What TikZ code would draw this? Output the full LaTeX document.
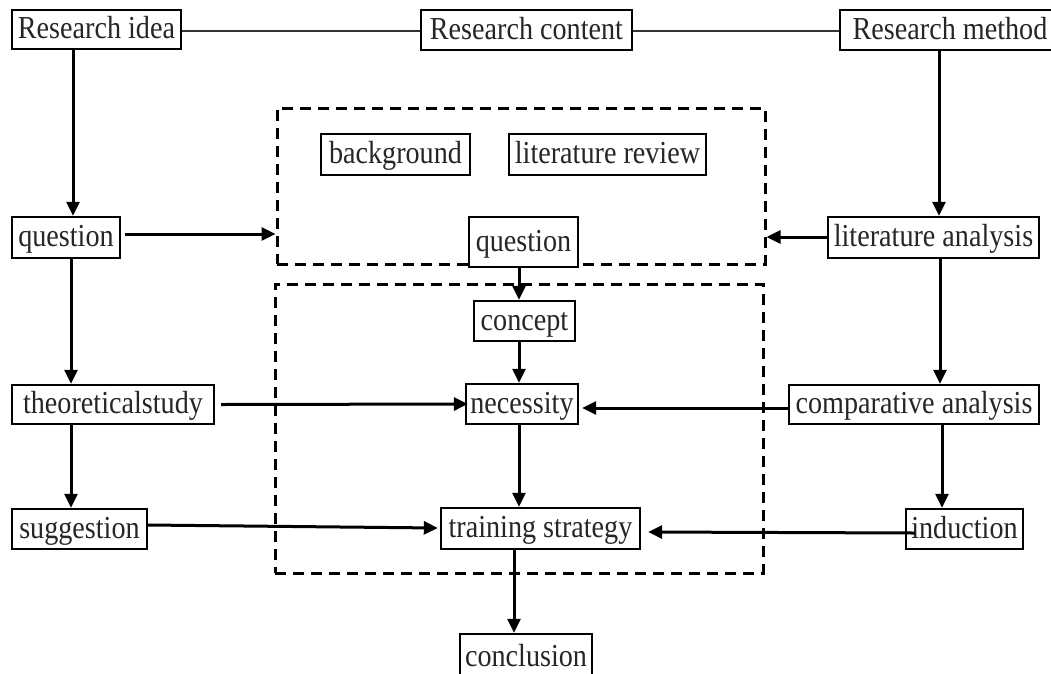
\documentclass[tikz,border=0pt]{standalone}
\usepackage{fontspec}
\setmainfont[FakeStretch=0.88]{Liberation Serif}
\usetikzlibrary{arrows.meta}
\begin{document}
\begin{tikzpicture}[x=1pt,y=-1pt,
  box/.style={draw=black,line width=2.4pt,inner sep=0pt,text=black!85,
    text height=23pt,text depth=5pt,
    font=\fontsize{32}{34}\selectfont},
  dbox/.style={draw=black,line width=3pt,dash pattern=on 11pt off 7pt,inner sep=0pt},
  arr/.style={draw=black,line width=3pt,-{Triangle[length=14pt,width=13pt]}},
  thin/.style={draw=black!80,line width=1.4pt}]
\clip (0,0) rectangle (1051,673);
\fill[white] (0,0) rectangle (1051,673);
% dashed groups
\node[dbox,minimum width=488pt,minimum height=156pt] (d1) at (521,186) {};
\node[dbox,minimum width=488pt,minimum height=289pt] (d2) at (519,428.5) {};
% nodes
\node[box,minimum width=169pt,minimum height=39pt] (ri) at (96.5,29.5) {Research idea};
\node[box,minimum width=211pt,minimum height=40pt] (rc) at (526.5,30) {Research content};
\node[box,minimum width=220pt,minimum height=40pt] (rm) at (950,30) {Research method};
\node[box,minimum width=108pt,minimum height=41pt] (q1) at (66,237.5) {question};
\node[box,minimum width=149pt,minimum height=41pt] (bg) at (395.5,154.5) {background};
\node[box,minimum width=197pt,minimum height=41pt] (lr) at (607.5,154.5) {literature review};
\node[box,minimum width=109pt,minimum height=50pt,fill=white] (q2) at (523.5,242) {question};
\node[box,minimum width=211pt,minimum height=41pt] (la) at (933.5,237.5) {literature analysis};
\node[box,minimum width=101pt,minimum height=40pt] (co) at (524.5,321) {concept};
\node[box,minimum width=112pt,minimum height=40pt] (ne) at (522,404) {necessity};
\node[box,minimum width=202pt,minimum height=39pt] (ts) at (113,404.5) {theoreticalstudy};
\node[box,minimum width=250pt,minimum height=39pt] (ca) at (914,404.5) {comparative analysis};
\node[box,minimum width=135pt,minimum height=40pt] (su) at (79.5,529) {suggestion};
\node[box,minimum width=199pt,minimum height=41pt] (tr) at (540.5,528.5) {training strategy};
\node[box,minimum width=117pt,minimum height=40pt] (in) at (964.5,529) {induction};
\node[box,minimum width=132pt,minimum height=46pt] (cn) at (526,657) {conclusion};
% top links
\draw[thin] ([yshift=-1.5pt]ri.east) -- ([yshift=-1pt]rc.west);
\draw[thin] ([yshift=-1pt]rc.east) -- ([yshift=-1pt]rm.west);
% left column
\draw[arr] ([xshift=-23.5pt]ri.south) -- ([xshift=7pt]q1.north);
\draw[arr] ([xshift=5pt]q1.south) -- ([xshift=-42pt]ts.north);
\draw[arr] ([xshift=-42pt]ts.south) -- ([xshift=-8.5pt]su.north);
\coordinate (qa) at ([xshift=4pt,yshift=3.5pt]q1.east);
\draw[arr] (qa) -- (qa -| d1.west);
% right column
\draw[arr] ([xshift=-11pt]rm.south) -- ([xshift=5.5pt]la.north);
\draw[arr] ([xshift=6.5pt]la.south) -- ([xshift=26pt]ca.north);
\draw[arr] ([xshift=28pt]ca.south) -- ([xshift=-22.5pt]in.north);
\coordinate (lb) at ([yshift=0.5pt]la.west);
\draw[arr] (lb) -- (lb -| d1.east);
% middle column
\draw[arr] ([xshift=-4.5pt]q2.south) -- ([xshift=-5.5pt]co.north);
\draw[arr] ([xshift=-5.5pt]co.south) -- ([xshift=-3pt]ne.north);
\draw[arr] ([xshift=-3pt]ne.south) -- ([xshift=-21.5pt]tr.north);
\draw[arr] ([xshift=-26.5pt]tr.south) -- ([xshift=-12pt]cn.north);
% horizontal feeds
\draw[arr] ([xshift=6pt]ts.east) -- ([xshift=3pt]ne.west);
\draw[arr] ([yshift=-3.5pt]ca.west) -- ([xshift=3pt,yshift=-4pt]ne.east);
\draw[arr] ([yshift=4pt]su.east) -- ([xshift=-2pt,yshift=0.5pt]tr.west);
\draw[arr] ([xshift=10pt,yshift=-4pt]in.west) -- ([xshift=7pt,yshift=-3.5pt]tr.east);
\end{tikzpicture}
\end{document}
